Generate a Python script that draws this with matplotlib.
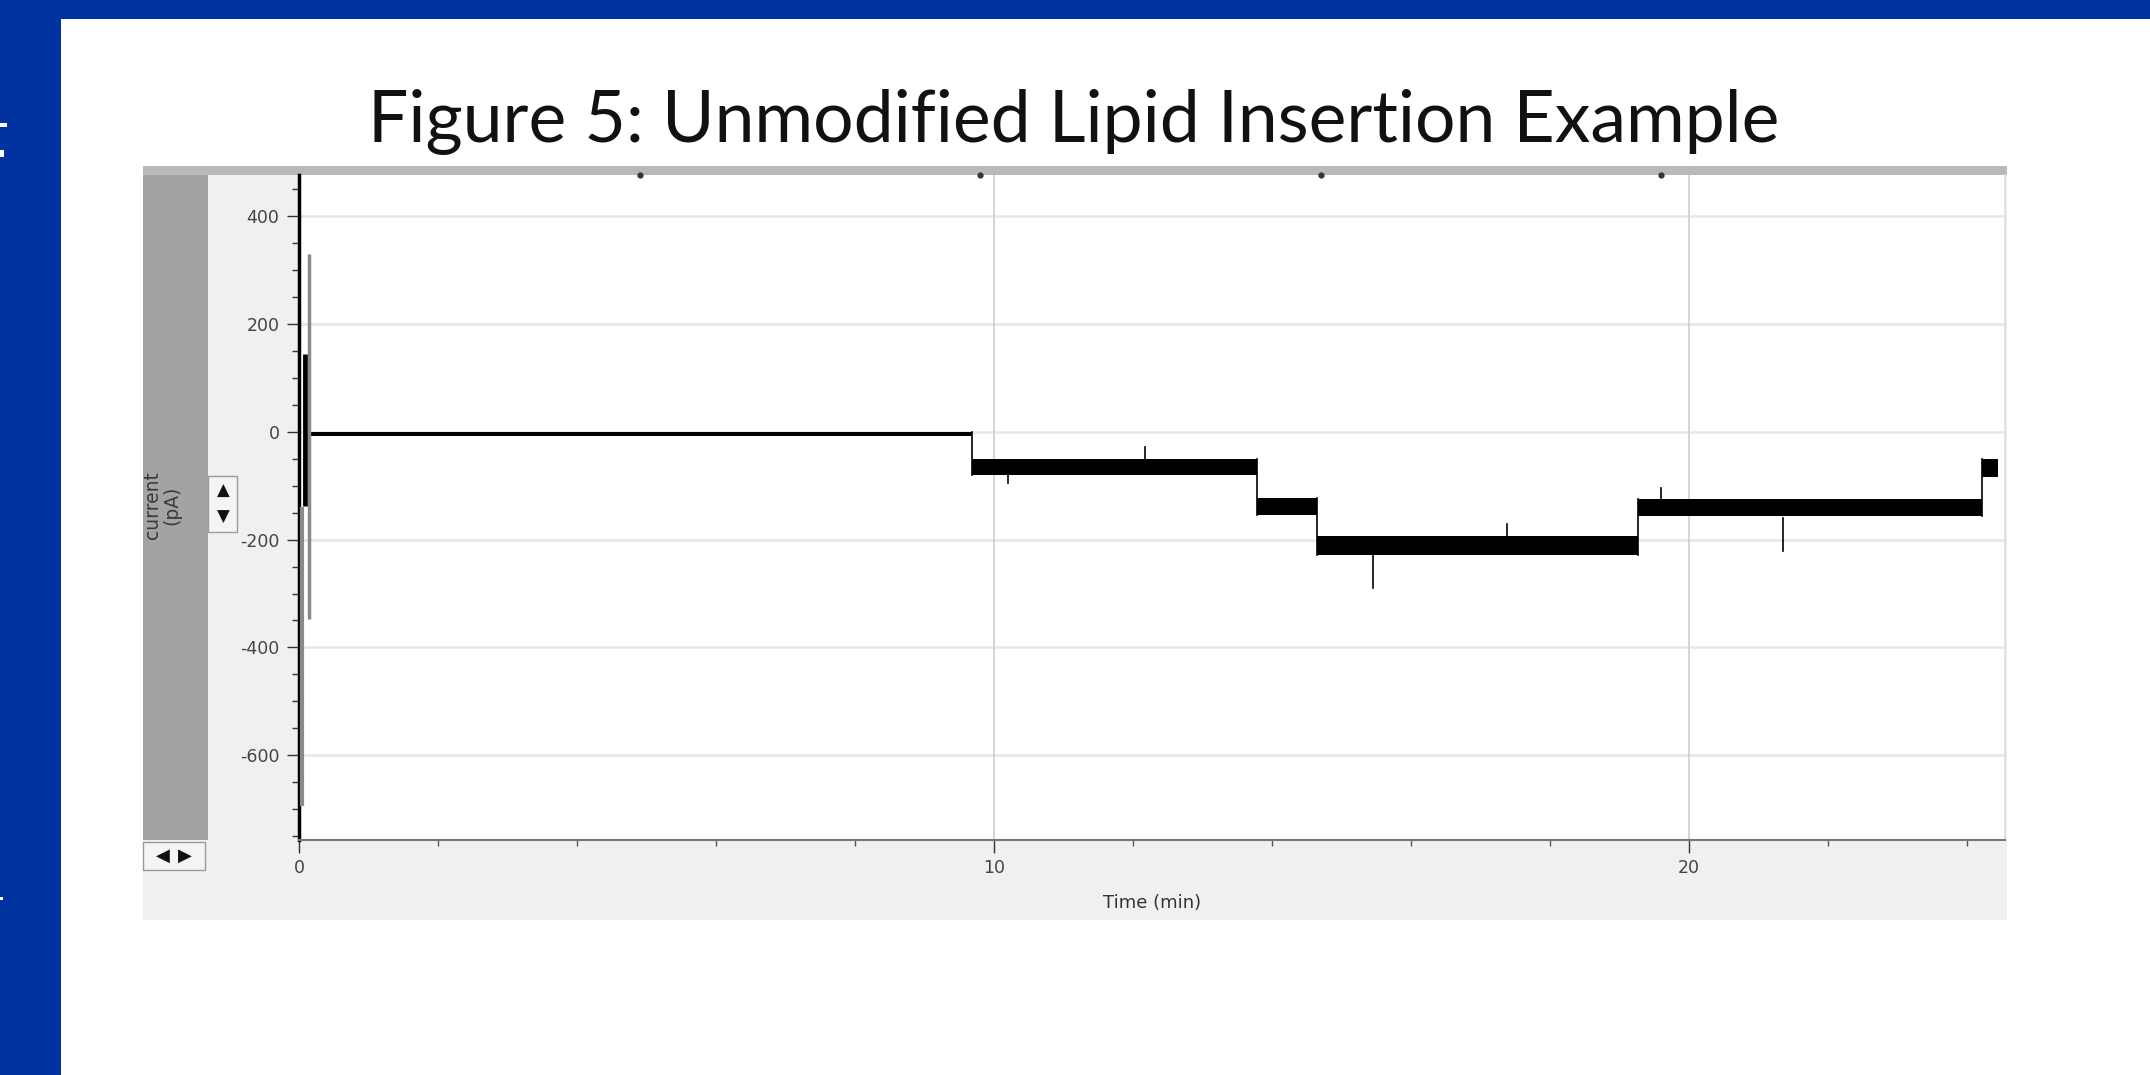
import matplotlib
matplotlib.use("Agg")
import matplotlib.pyplot as plt
from matplotlib.patches import Rectangle
from matplotlib.ticker import MultipleLocator

# ---------------- data ----------------
seg_start = [0.16, 9.68, 13.78, 14.65, 19.27, 24.22]
seg_end   = [9.68, 13.78, 14.65, 19.27, 24.22, 24.45]
seg_high  = [-1, -50, -122, -193, -124, -50]
seg_low   = [-8, -80, -154, -228, -156, -84]

spike_t   = [10.2, 12.18, 15.45, 17.38, 19.6, 21.36]
spike_lo  = [-95, -70, -290, -215, -150, -222]
spike_hi  = [-70, -28, -228, -172, -105, -160]

# initial transient at t = 0
trans_t   = [0.04, 0.08, 0.14]
trans_hi  = [-140, 145, 330]
trans_lo  = [-694, -137, -348]
trans_w   = [3.0, 3.5, 2.5]
trans_c   = ["#8a8a8a", "#000000", "#8a8a8a"]

top_ticks = [4.9, 9.8, 14.7, 19.6]
y_ticks   = [400, 200, 0, -200, -400, -600]
x_ticks   = [0, 10, 20]

W, H = 2150, 1075
fig = plt.figure(figsize=(W / 100, H / 100), dpi=100)
fig.patch.set_facecolor("#0033A0")


def rect(x0, y0, x1, y1, color, z=-5, ec="none", lw=0):
    fig.patches.append(Rectangle((x0 / W, 1 - y1 / H), (x1 - x0) / W, (y1 - y0) / H,
                                 transform=fig.transFigure, facecolor=color,
                                 edgecolor=ec, lw=lw, zorder=z))


rect(61, 19, W, H, "white", z=-10)
rect(143, 166, 2007, 920, "#f0f0f0", z=-9)
rect(143, 166, 2007, 175, "#b9b9b9", z=-8)
rect(143, 175, 208, 840, "#a3a3a3", z=-8)

# clipped slide-text fragments on the blue margin
rect(0, 123, 7, 127, "white", z=-4)
rect(0, 150, 4, 157, "white", z=-4)
rect(0, 897, 3, 900, "white", z=-4)

# title
fig.text(1074 / W, 1 - 122 / H, "Figure 5: Unmodified Lipid Insertion Example",
         ha="center", va="center", fontsize=51.5, family="Lato", color="#111111")

# plot axes
ax = fig.add_axes([299 / W, 1 - 840 / H, (2005 - 299) / W, (840 - 175) / H])
ax.set_facecolor("white")
ax.set_xlim(0, 24.55)
ax.set_ylim(-757, 476)

for t in y_ticks:
    ax.axhline(t, color="#e6e6e6", lw=1.8, zorder=0)
for t in x_ticks[1:]:
    ax.axvline(t, color="#d2d2d2", lw=1.3, zorder=0)

for s, e, hi, lo in zip(seg_start, seg_end, seg_high, seg_low):
    ax.fill_between([s, e], [lo, lo], [hi, hi], color="black", lw=0, zorder=3)
# step transitions
for i in range(len(seg_start) - 1):
    t = seg_end[i]
    ax.plot([t, t], [min(seg_low[i], seg_low[i + 1]), max(seg_high[i], seg_high[i + 1])],
            color="black", lw=1.2, zorder=3)
for t, lo, hi in zip(spike_t, spike_lo, spike_hi):
    ax.plot([t, t], [lo, hi], color="black", lw=1.2, zorder=3)
for t, hi, lo, w, c in zip(trans_t, trans_hi, trans_lo, trans_w, trans_c):
    ax.plot([t, t], [lo, hi], color=c, lw=w, zorder=4, solid_capstyle="butt")

ax.set_yticks(y_ticks)
ax.set_yticklabels([str(v) for v in y_ticks])
ax.yaxis.set_minor_locator(MultipleLocator(50))
ax.set_xticks(x_ticks)
ax.set_xticklabels([str(v) for v in x_ticks])
ax.xaxis.set_minor_locator(MultipleLocator(2))

ax.tick_params(axis="y", which="major", length=9, width=1, color="#333333",
               labelsize=12.5, labelcolor="#444444", pad=5)
ax.tick_params(axis="y", which="minor", length=5, width=1, color="#333333")
ax.tick_params(axis="x", which="major", length=9, width=1, color="#333333",
               labelsize=12.5, labelcolor="#444444", pad=5)
ax.tick_params(axis="x", which="minor", length=4, width=1, color="#555555")
for lab in ax.get_xticklabels() + ax.get_yticklabels():
    lab.set_family("DejaVu Sans")

ax.spines["left"].set_color("black")
ax.spines["left"].set_linewidth(2.5)
ax.spines["bottom"].set_color("#777777")
ax.spines["bottom"].set_linewidth(1.5)
ax.spines["top"].set_visible(False)
ax.spines["right"].set_color("#dddddd")
ax.spines["right"].set_linewidth(1.2)

ax.plot(top_ticks, [476] * len(top_ticks), "o", color="#2a3a3a", ms=3.5,
        clip_on=False, zorder=6)

ax.set_xlabel("Time (min)", fontsize=13, color="#333333", family="DejaVu Sans",
              labelpad=12)

# y label in dark strip
fig.text(162 / W, 1 - 505 / H, "current\n(pA)", rotation=90, ha="center", va="center",
         fontsize=13.5, color="#3a3a3a", family="DejaVu Sans", linespacing=1.05)

# spinner widget
rect(208, 476, 237, 532, "#f4f4f4", z=5, ec="#9a9a9a", lw=1)
fig.text(223 / W, 1 - 491 / H, "\u25B2", ha="center", va="center", fontsize=12,
         color="#111111", family="DejaVu Sans", zorder=6)
fig.text(223 / W, 1 - 517 / H, "\u25BC", ha="center", va="center", fontsize=12,
         color="#111111", family="DejaVu Sans", zorder=6)

# scroll arrows widget
rect(143, 842, 205, 870, "#f4f4f4", z=5, ec="#9a9a9a", lw=1)
fig.text(163 / W, 1 - 856 / H, "\u25C0", ha="center", va="center", fontsize=13,
         color="#111111", family="DejaVu Sans", zorder=6)
fig.text(185 / W, 1 - 856 / H, "\u25B6", ha="center", va="center", fontsize=13,
         color="#111111", family="DejaVu Sans", zorder=6)

fig.savefig("out.png", dpi=100, facecolor=fig.get_facecolor())
